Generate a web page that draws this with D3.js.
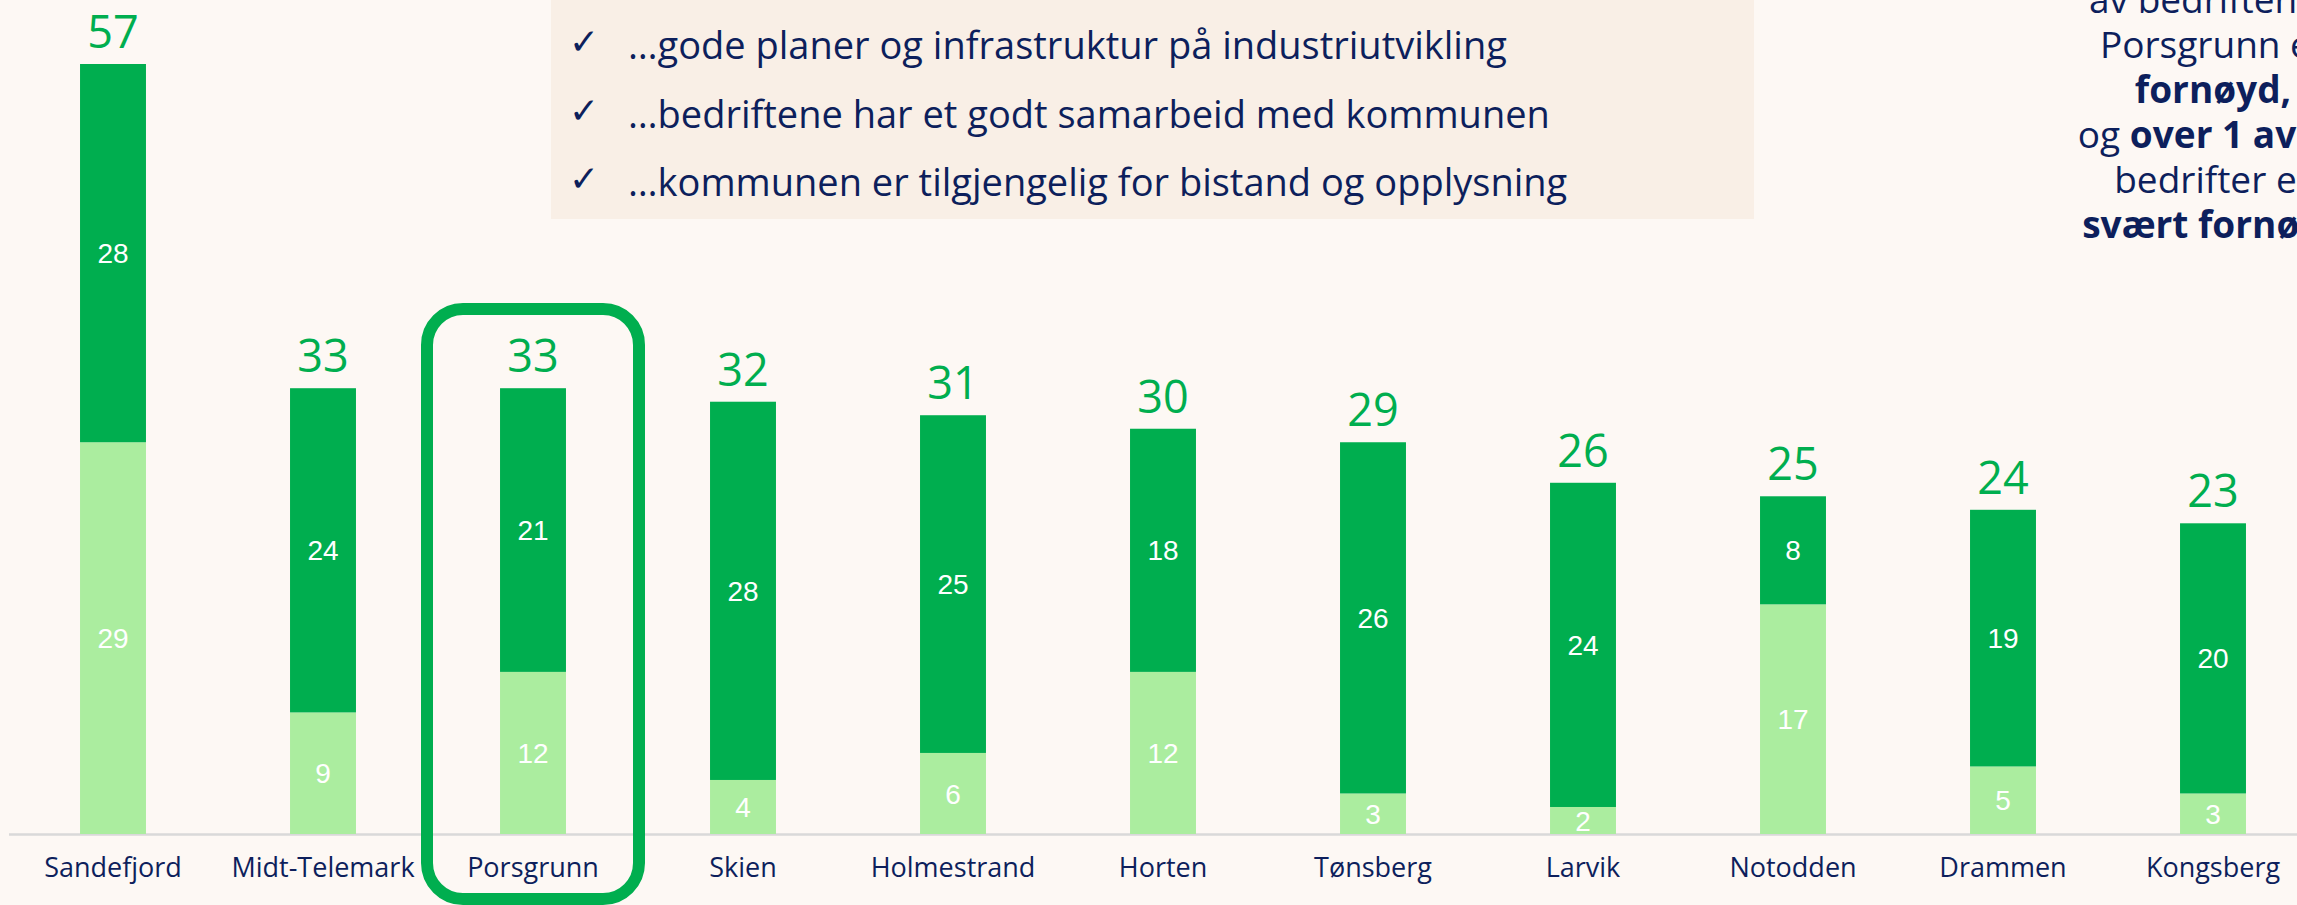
<!DOCTYPE html>
<html>
<head>
<meta charset="utf-8">
<script src="https://cdn.jsdelivr.net/npm/d3@7"></script>
<style>
  html, body { margin: 0; padding: 0; background: #fdf8f4; overflow: hidden; }
  svg { display: block; }
</style>
</head>
<body>
<svg id="chart" width="2297" height="905"></svg>
<script>
const categories = ["Sandefjord", "Midt-Telemark", "Porsgrunn", "Skien", "Holmestrand", "Horten", "Tønsberg", "Larvik", "Notodden", "Drammen", "Kongsberg"];
const fornoyd = [29, 9, 12, 4, 6, 12, 3, 2, 17, 5, 3];        // light segment (bottom)
const svaertFornoyd = [28, 24, 21, 28, 25, 18, 26, 24, 8, 19, 20]; // dark segment (top)
const totals = [57, 33, 33, 32, 31, 30, 29, 26, 25, 24, 23];
const highlight = "Porsgrunn";
const bullets = [
  "…gode planer og infrastruktur på industriutvikling",
  "…bedriftene har et godt samarbeid med kommunen",
  "…kommunen er tilgjengelig for bistand og opplysning"
];
const sideText = [
  [["av bedriftene i", false]],
  [["Porsgrunn er", false]],
  [["fornøyd,", true]],
  [["og ", false], ["over 1 av 10", true]],
  [["bedrifter er", false]],
  [["svært fornøyd", true]]
];

const DARK = "#00ae4f", LIGHT = "#abed9f", NAVY = "#0d1f5c";
const svg = d3.select("#chart");
const W = 2297, H = 905;

// Background
svg.append("rect").attr("width", W).attr("height", H).attr("fill", "#fdf8f4");

// Scales
const x = d3.scaleBand().domain(categories).range([8, 2318]).paddingInner(0.686).paddingOuter(0.343);
const y = d3.scaleLinear().domain([0, 57]).range([834, 64]);

// Text box at top
svg.append("rect").attr("x", 551).attr("y", 0).attr("width", 1203).attr("height", 219).attr("fill", "#f9efe6");
const bl = svg.append("g");
bullets.forEach((t, i) => {
  const by = 59 + i * 68.5;
  bl.append("text").attr("x", 569).attr("y", by - 5).attr("font-family", "DejaVu Sans").attr("font-size", 36)
    .attr("fill", NAVY).text("✓");
  bl.append("text").attr("x", 628).attr("y", by).attr("font-family", "Open Sans").attr("font-size", 38)
    .attr("fill", NAVY).text(t);
});

// Side text (partially off-canvas, centered)
sideText.forEach((parts, i) => {
  const t = svg.append("text").attr("x", 2213).attr("y", 13 + i * 45).attr("text-anchor", "middle")
    .attr("font-family", "Open Sans").attr("font-size", 37).attr("fill", NAVY);
  parts.forEach(([s, b]) => t.append("tspan").attr("font-weight", b ? 700 : 400).text(s));
});

// Axis baseline
svg.append("line").attr("x1", 9).attr("x2", W).attr("y1", 834.5).attr("y2", 834.5)
  .attr("stroke", "#d9d9d9").attr("stroke-width", 2.5);

// Bars
const data = categories.map((c, i) => ({ c, a: fornoyd[i], b: svaertFornoyd[i], t: totals[i] }));
const g = svg.append("g");
const bw = x.bandwidth();

g.selectAll("rect.light").data(data).join("rect").attr("class", "light")
  .attr("x", d => x(d.c)).attr("width", bw)
  .attr("y", d => y(d.a)).attr("height", d => y(0) - y(d.a)).attr("fill", LIGHT);
g.selectAll("rect.dark").data(data).join("rect").attr("class", "dark")
  .attr("x", d => x(d.c)).attr("width", bw)
  .attr("y", d => y(d.a + d.b)).attr("height", d => y(d.a) - y(d.a + d.b)).attr("fill", DARK);

// Segment labels
g.selectAll("text.la").data(data).join("text").attr("class", "la")
  .attr("x", d => x(d.c) + bw / 2).attr("y", d => (y(0) + y(d.a)) / 2)
  .attr("dy", "0.36em").attr("text-anchor", "middle")
  .attr("font-family", "Liberation Sans").attr("font-size", 28).attr("fill", "#ffffff")
  .text(d => d.a);
g.selectAll("text.lb").data(data).join("text").attr("class", "lb")
  .attr("x", d => x(d.c) + bw / 2).attr("y", d => (y(d.a) + y(d.a + d.b)) / 2)
  .attr("dy", "0.36em").attr("text-anchor", "middle")
  .attr("font-family", "Liberation Sans").attr("font-size", 28).attr("fill", "#ffffff")
  .text(d => d.b);

// Totals
g.selectAll("text.tot").data(data).join("text").attr("class", "tot")
  .attr("x", d => x(d.c) + bw / 2).attr("y", d => y(d.a + d.b) - 16)
  .attr("text-anchor", "middle")
  .attr("font-family", "Open Sans").attr("font-size", 45).attr("fill", DARK)
  .text(d => d.t);

// Category axis
const xAxis = d3.axisBottom(x).tickSize(0).tickPadding(0);
const ax = svg.append("g").attr("transform", "translate(0,877)").call(xAxis);
ax.select(".domain").remove();
ax.selectAll("text").attr("font-family", "Open Sans").attr("font-size", 27).attr("fill", NAVY).attr("dy", 0);

// Highlight box
const hx = x(highlight) + bw / 2;
svg.append("rect").attr("x", hx - 106).attr("y", 309).attr("width", 212).attr("height", 590)
  .attr("rx", 36).attr("ry", 36).attr("fill", "none").attr("stroke", DARK).attr("stroke-width", 12);
</script>
</body>
</html>
